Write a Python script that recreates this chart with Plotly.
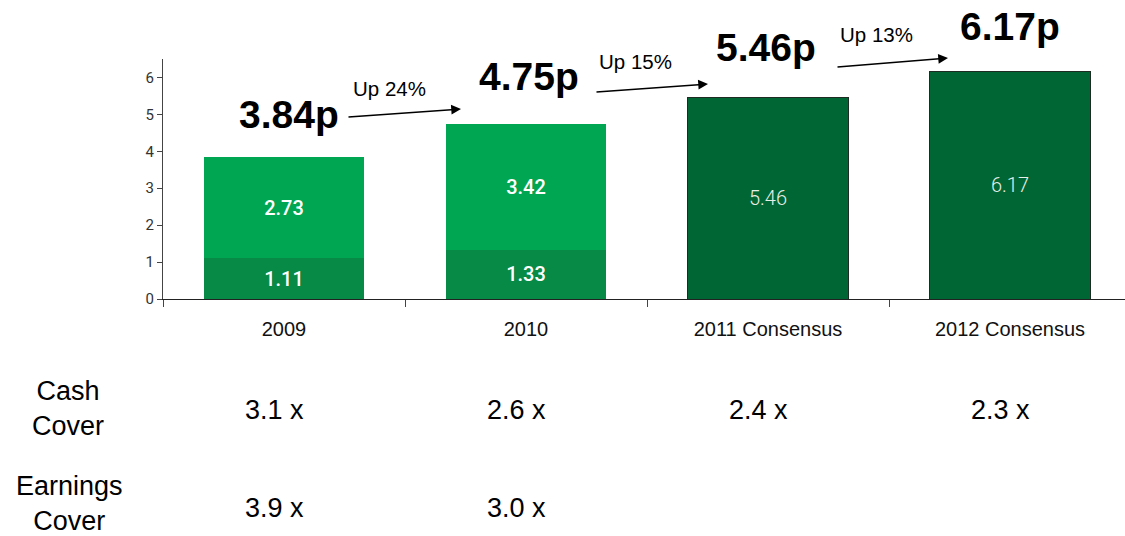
import plotly.graph_objects as go

categories = ["2009", "2010", "2011 Consensus", "2012 Consensus"]
base_values = [1.11, 1.33, None, None]
top_values = [2.73, 3.42, None, None]
consensus_values = [None, None, 5.46, 6.17]
totals_labels = ["3.84p", "4.75p", "5.46p", "6.17p"]
growth_labels = ["Up 24%", "Up 15%", "Up 13%"]
cash_cover = ["3.1 x", "2.6 x", "2.4 x", "2.3 x"]
earnings_cover = ["3.9 x", "3.0 x"]
y_ticks = [0, 1, 2, 3, 4, 5, 6]

W, H = 1125, 536
ML, MT, MB = 163, 59, 237
PX_PER_CAT = 242.0
PLOT_W = W - ML
X_RANGE = [-0.5, -0.5 + PLOT_W / PX_PER_CAT]
Y_RANGE = [0, 6.5]
PLOT_H = H - MT - MB


def px_to_x(px):
    return (px - ML) / PX_PER_CAT + X_RANGE[0]


def py_paper(py):
    return (MT + PLOT_H - py) / PLOT_H


fig = go.Figure()
bar_w = 0.665
fig.add_trace(go.Bar(
    x=categories, y=base_values, marker=dict(color="#068A45", line=dict(width=0)),
    width=bar_w, texttemplate="%{y:.2f}", textposition="inside", insidetextanchor="middle",
    textangle=0, textfont=dict(family="Roboto", size=20, color="white", weight=500),
    hoverinfo="skip"))
fig.add_trace(go.Bar(
    x=categories, y=top_values, marker=dict(color="#00A651", line=dict(width=0)),
    width=bar_w, texttemplate="%{y:.2f}", textposition="inside", insidetextanchor="middle",
    textangle=0, textfont=dict(family="Roboto", size=20, color="white", weight=500),
    hoverinfo="skip"))
fig.add_trace(go.Bar(
    x=categories, y=consensus_values, marker=dict(color="#006633", line=dict(width=1, color="#1d2b22")),
    width=bar_w, texttemplate="%{y:.2f}", textposition="inside", insidetextanchor="middle",
    textangle=0, textfont=dict(family="Roboto", size=20, color="#e8efe9", weight=300),
    hoverinfo="skip"))

annotations = []
# big total labels (cap-middle pixel positions)
big_pos = [(289, 114), (529, 77), (766, 48), (1010, 26.5)]
for lab, (px, py) in zip(totals_labels, big_pos):
    annotations.append(dict(x=px_to_x(px), y=py_paper(py), xref="x", yref="paper", text=lab,
                            showarrow=False, xanchor="center", yanchor="middle",
                            font=dict(family="Liberation Sans", size=39, color="black", weight="bold")))
up_pos = [(389, 88), (635, 62), (876, 35)]
for lab, (px, py) in zip(growth_labels, up_pos):
    annotations.append(dict(x=px_to_x(px), y=py_paper(py), xref="x", yref="paper", text=lab,
                            showarrow=False, xanchor="center", yanchor="middle",
                            font=dict(family="Liberation Sans", size=20.5, color="black")))
arrows = [((347, 117), (461, 109)), ((595, 92), (708, 84)), ((836, 67), (948, 58))]
for (sx, sy), (tx, ty) in arrows:
    annotations.append(dict(x=px_to_x(tx), y=py_paper(ty), xref="x", yref="paper",
                            ax=sx - tx, ay=sy - ty, axref="pixel", ayref="pixel", text="",
                            showarrow=True, arrowhead=2, arrowsize=1.3, arrowwidth=1.5,
                            arrowcolor="black", standoff=0, startstandoff=0))

annotations.append(dict(x=(68 - ML) / PLOT_W, y=py_paper(408), xref="paper", yref="paper",
                        text="Cash<br>Cover", showarrow=False, xanchor="center", yanchor="middle",
                        font=dict(family="Liberation Sans", size=27, color="black")))
annotations.append(dict(x=(69 - ML) / PLOT_W, y=py_paper(504), xref="paper", yref="paper",
                        text="Earnings<br>Cover", showarrow=False, xanchor="center", yanchor="middle",
                        font=dict(family="Liberation Sans", size=27, color="black")))
for i, v in enumerate(cash_cover):
    annotations.append(dict(x=i, y=py_paper(410), xref="x", yref="paper", xshift=-10, text=v,
                            showarrow=False, xanchor="center", yanchor="middle",
                            font=dict(family="Liberation Sans", size=27, color="black")))
for i, v in enumerate(earnings_cover):
    annotations.append(dict(x=i, y=py_paper(508), xref="x", yref="paper", xshift=-10, text=v,
                            showarrow=False, xanchor="center", yanchor="middle",
                            font=dict(family="Liberation Sans", size=27, color="black")))

fig.update_layout(
    width=W, height=H, margin=dict(l=ML, r=0, t=MT, b=MB, pad=0),
    barmode="stack", showlegend=False,
    plot_bgcolor="white", paper_bgcolor="white",
    annotations=annotations,
    xaxis=dict(type="category", range=X_RANGE, showline=True, linecolor="#222", linewidth=1.2,
               ticks="outside", ticklen=7, tickcolor="#444", tickson="boundaries",
               showgrid=False, zeroline=False, ticklabelstandoff=12,
               tickfont=dict(family="Liberation Sans", size=20, color="#111")),
    yaxis=dict(range=Y_RANGE, tickvals=y_ticks, showline=True, linecolor="#444", linewidth=1,
               ticks="outside", ticklen=5, tickcolor="#444", showgrid=False, zeroline=False,
               tickfont=dict(family="Roboto", size=15, color="#333")),
)

fig.write_html("out.html")
